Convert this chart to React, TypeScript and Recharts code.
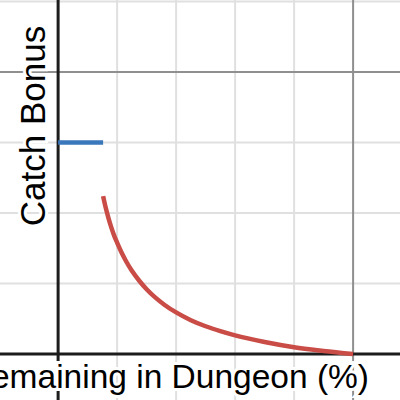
import { LineChart, Line, XAxis, YAxis, ReferenceLine } from "recharts";

// capped catch bonus (flat part) and the falling part, x in percent
const flatX = [0, 15.25];
const flatY = [1.5, 1.5];
const curveX = [15.25, 16, 17, 18, 19, 20, 21.5, 23, 25, 27.5, 30, 33, 36, 40, 45, 50, 55, 60, 70, 80, 90, 100];
const curveY = [1.12, 1.05, 0.97, 0.9, 0.84, 0.79, 0.72, 0.66, 0.59, 0.52, 0.46, 0.4, 0.35, 0.295, 0.24, 0.197, 0.162, 0.132, 0.085, 0.048, 0.022, 0];

const minorX = [20, 40, 60, 80];
const majorX = [100];
const minorY = [0.5, 1, 1.5, 2.5];
const majorY = [2];

const xLabel = "Pokémon Remaining in Dungeon (%)";
const yLabel = "Catch Bonus";

const flatData = flatX.map((x, i) => ({ x, y: flatY[i] }));
const curveData = curveX.map((x, i) => ({ x, y: curveY[i] }));

const W = 400;
const H = 400;
const font = "'Liberation Sans', Arial, sans-serif";

export default function App() {
  return (
    <div style={{ position: "absolute", left: 0, top: 0, width: W, height: H }}>
      <LineChart width={W} height={H} margin={{ top: 0, right: 0, bottom: 0, left: 0 }}>
        <XAxis type="number" dataKey="x" domain={[-19.7, 115.9]} hide allowDataOverflow />
        <YAxis type="number" dataKey="y" domain={[-0.326, 2.511]} hide allowDataOverflow />
        {minorX.map((v) => (
          <ReferenceLine key={"mx" + v} x={v} stroke="#e0e0e0" strokeWidth={2} />
        ))}
        {minorY.map((v) => (
          <ReferenceLine key={"my" + v} y={v} stroke="#e0e0e0" strokeWidth={2} />
        ))}
        {majorX.map((v) => (
          <ReferenceLine key={"Mx" + v} x={v} stroke="#8f8f8f" strokeWidth={2} />
        ))}
        {majorY.map((v) => (
          <ReferenceLine key={"My" + v} y={v} stroke="#8f8f8f" strokeWidth={2} />
        ))}
        <ReferenceLine x={0} stroke="#1c1c1c" strokeWidth={3} />
        <ReferenceLine y={0} stroke="#1c1c1c" strokeWidth={3} />
        <Line
          data={flatData}
          dataKey="y"
          type="linear"
          stroke="#3a77bb"
          strokeWidth={4.5}
          dot={false}
          activeDot={false}
          isAnimationActive={false}
        />
        <Line
          data={curveData}
          dataKey="y"
          type="monotone"
          stroke="#c94c47"
          strokeWidth={4.5}
          dot={false}
          activeDot={false}
          isAnimationActive={false}
        />
      </LineChart>
      <svg width={W} height={H} style={{ position: "absolute", left: 0, top: 0, pointerEvents: "none" }}>
        <text
          x={369}
          y={388}
          textAnchor="end"
          fontFamily={font}
          fontSize={33.5}
          fill="#000"
          stroke="#fff"
          strokeWidth={6}
          paintOrder="stroke"
        >
          {xLabel}
        </text>
        <text
          transform="translate(45,126) rotate(-90)"
          textAnchor="middle"
          fontFamily={font}
          fontSize={35}
          fill="#000"
          stroke="#fff"
          strokeWidth={6}
          paintOrder="stroke"
        >
          {yLabel}
        </text>
      </svg>
    </div>
  );
}
